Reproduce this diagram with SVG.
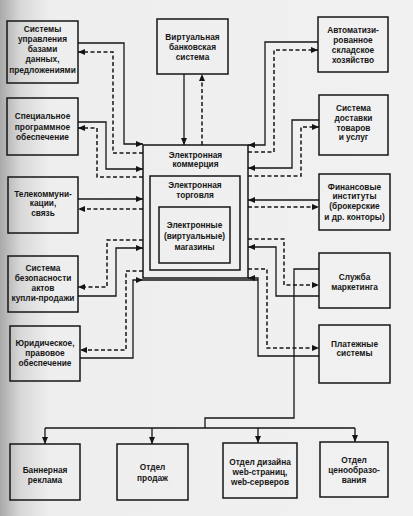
<svg xmlns="http://www.w3.org/2000/svg" width="413" height="516" viewBox="0 0 413 516">
<defs>
<linearGradient id="edge" x1="0" y1="0" x2="1" y2="0">
<stop offset="0" stop-color="#a9a9a9"/>
<stop offset="0.05" stop-color="#d8d8d8"/>
<stop offset="0.12" stop-color="#eeeeee"/>
<stop offset="1" stop-color="#f1f1f1"/>
</linearGradient>
<marker id="ah" markerUnits="userSpaceOnUse" markerWidth="8" markerHeight="7" refX="7" refY="3" orient="auto">
<path d="M0,0 L7,3 L0,6 z" fill="#141414"/>
</marker>
</defs>
<style>
.box{fill:none;stroke:#161616;stroke-width:1.5}
.t{font-family:"Liberation Sans",Arial,sans-serif;font-weight:bold;font-size:8.3px;fill:#161616;text-anchor:middle}
.s{fill:none;stroke:#161616;stroke-width:1.3}
.d{fill:none;stroke:#161616;stroke-width:1.5;stroke-dasharray:4 2.5}
</style>
<rect x="0" y="0" width="413" height="516" fill="url(#edge)"/>

<g id="center">
<rect class="box" x="143" y="145" width="105" height="133"/>
<text class="t" x="195.5" y="158">Электронная</text>
<text class="t" x="195.5" y="167">коммерция</text>
</g>
<g id="trade">
<rect class="box" x="150" y="176" width="90" height="94"/>
<text class="t" x="195" y="188">Электронная</text>
<text class="t" x="195" y="198">торговля</text>
</g>
<g id="shops">
<rect class="box" x="159" y="207" width="71" height="56"/>
<text class="t" x="194.5" y="228">Электронные</text>
<text class="t" x="194.5" y="239">(виртуальные)</text>
<text class="t" x="194.5" y="250">магазины</text>
</g>

<g id="bank">
<rect class="box" x="157" y="19" width="71" height="55"/>
<text class="t" x="192.5" y="40">Виртуальная</text>
<text class="t" x="192.5" y="50">банковская</text>
<text class="t" x="192.5" y="60">система</text>
</g>

<g id="dbms">
<rect class="box" x="7" y="21" width="71" height="62"/>
<text class="t" x="42.5" y="32">Системы</text>
<text class="t" x="42.5" y="42">управления</text>
<text class="t" x="42.5" y="52">базами</text>
<text class="t" x="42.5" y="62">данных,</text>
<text class="t" x="42.5" y="73">предложениями</text>
</g>
<g id="software">
<rect class="box" x="7" y="98" width="71" height="57"/>
<text class="t" x="42.5" y="119">Специальное</text>
<text class="t" x="42.5" y="130">программное</text>
<text class="t" x="42.5" y="140">обеспечение</text>
</g>
<g id="telecom">
<rect class="box" x="8" y="177" width="70" height="56"/>
<text class="t" x="43" y="197">Телекоммуни-</text>
<text class="t" x="43" y="206">кации,</text>
<text class="t" x="43" y="216">связь</text>
</g>
<g id="security">
<rect class="box" x="8" y="256" width="70" height="56"/>
<text class="t" x="43" y="271">Система</text>
<text class="t" x="43" y="281">безопасности</text>
<text class="t" x="43" y="291">актов</text>
<text class="t" x="43" y="301">купли-продажи</text>
</g>
<g id="legal">
<rect class="box" x="10" y="326" width="70" height="55"/>
<text class="t" x="45" y="346">Юридическое,</text>
<text class="t" x="45" y="356">правовое</text>
<text class="t" x="45" y="366">обеспечение</text>
</g>

<g id="warehouse">
<rect class="box" x="318" y="17" width="70" height="55"/>
<text class="t" x="353" y="33">Автоматизи-</text>
<text class="t" x="353" y="43">рованное</text>
<text class="t" x="353" y="53">складское</text>
<text class="t" x="353" y="63">хозяйство</text>
</g>
<g id="delivery">
<rect class="box" x="319" y="95" width="69" height="60"/>
<text class="t" x="353.5" y="111">Система</text>
<text class="t" x="353.5" y="121">доставки</text>
<text class="t" x="353.5" y="131">товаров</text>
<text class="t" x="353.5" y="140">и услуг</text>
</g>
<g id="finance">
<rect class="box" x="319" y="174" width="71" height="56"/>
<text class="t" x="354.5" y="190">Финансовые</text>
<text class="t" x="354.5" y="199">институты</text>
<text class="t" x="354.5" y="209">(брокерские</text>
<text class="t" x="354.5" y="220">и др. конторы)</text>
</g>
<g id="marketing">
<rect class="box" x="319" y="253" width="71" height="55"/>
<text class="t" x="354.5" y="280">Служба</text>
<text class="t" x="354.5" y="290">маркетинга</text>
</g>
<g id="payment">
<rect class="box" x="319" y="325" width="71" height="58"/>
<text class="t" x="354.5" y="347">Платежные</text>
<text class="t" x="354.5" y="356">системы</text>
</g>

<g id="banner">
<rect class="box" x="10" y="444" width="70" height="56"/>
<text class="t" x="45" y="473">Баннерная</text>
<text class="t" x="45" y="483">реклама</text>
</g>
<g id="sales">
<rect class="box" x="117" y="444" width="71" height="56"/>
<text class="t" x="152.5" y="470">Отдел</text>
<text class="t" x="152.5" y="481">продаж</text>
</g>
<g id="design">
<rect class="box" x="223" y="443" width="74" height="55"/>
<text class="t" x="260" y="465">Отдел дизайна</text>
<text class="t" x="260" y="475">web-страниц,</text>
<text class="t" x="260" y="485">web-серверов</text>
</g>
<g id="pricing">
<rect class="box" x="320" y="442" width="68" height="55"/>
<text class="t" x="354" y="463">Отдел</text>
<text class="t" x="354" y="473">ценообразо-</text>
<text class="t" x="354" y="483">вания</text>
</g>

<g id="connectors">
<path class="s" d="M184,74 V145" marker-end="url(#ah)"/>
<path class="d" d="M202,145 V74" marker-end="url(#ah)"/>

<path class="s" d="M78,43 H124 V144 H143" marker-end="url(#ah)"/>
<path class="d" d="M143,153 H113 V52 H78" marker-end="url(#ah)"/>
<path class="s" d="M78,122 H106 V169 H143" marker-end="url(#ah)"/>
<path class="d" d="M143,177 H97 V128 H78" marker-end="url(#ah)"/>
<path class="s" d="M78,199 H143" marker-end="url(#ah)"/>
<path class="d" d="M143,209 H78" marker-end="url(#ah)"/>
<path class="s" d="M78,296 H116 V248 H143" marker-end="url(#ah)"/>
<path class="d" d="M143,240 H107 V287 H78" marker-end="url(#ah)"/>
<path class="s" d="M80,358 H133 V280 H143" marker-end="url(#ah)"/>
<path class="s" d="M143,280 H258"/>
<path class="d" d="M143,271 H126 V350 H80" marker-end="url(#ah)"/>

<path class="s" d="M318,42 H265 V145 H248" marker-end="url(#ah)"/>
<path class="d" d="M248,152 H274 V50 H318" marker-end="url(#ah)"/>
<path class="s" d="M319,120 H292 V168 H248" marker-end="url(#ah)"/>
<path class="d" d="M248,176 H301 V127 H319" marker-end="url(#ah)"/>
<path class="s" d="M319,200 H248" marker-end="url(#ah)"/>
<path class="d" d="M248,207 H319" marker-end="url(#ah)"/>
<path class="d" d="M248,239 H284 V285 H319" marker-end="url(#ah)"/>
<path class="s" d="M319,296 H276 V247 H248" marker-end="url(#ah)"/>
<path class="d" d="M248,269 H267 V348 H319" marker-end="url(#ah)"/>
<path class="s" d="M319,356 H258 V278 H248" marker-end="url(#ah)"/>

<path class="s" d="M319,269 H294 V418 H205 V428"/>
<path class="s" d="M45,428 H355"/>
<path class="s" d="M45,428 V444" marker-end="url(#ah)"/>
<path class="s" d="M152,428 V444" marker-end="url(#ah)"/>
<path class="s" d="M258,428 V443" marker-end="url(#ah)"/>
<path class="s" d="M355,428 V442" marker-end="url(#ah)"/>
</g>
</svg>
